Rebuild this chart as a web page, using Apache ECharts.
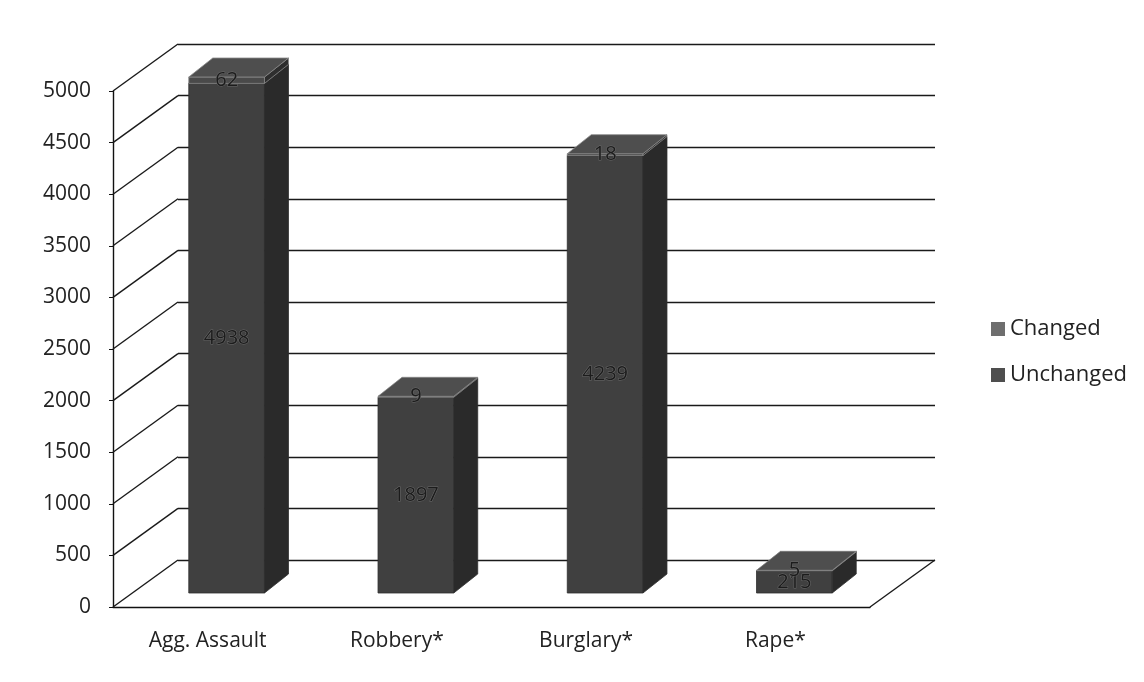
<!DOCTYPE html>
<html>
<head>
<meta charset="utf-8">
<title>Changed vs Unchanged</title>
<script src="https://cdn.jsdelivr.net/npm/echarts@6/dist/echarts.min.js"></script>
<style>
  html, body { margin: 0; padding: 0; background: #fff; }
  #chart { width: 1144px; height: 682px; }
</style>
</head>
<body>
<div id="chart"></div>
<script>
// chart values
var categories = ['Agg. Assault', 'Robbery*', 'Burglary*', 'Rape*'];
var unchanged = [4938, 1897, 4239, 215];
var changed = [62, 9, 18, 5];
var yTicks = [0, 500, 1000, 1500, 2000, 2500, 3000, 3500, 4000, 4500, 5000];

// 3d look: wall depth and bar placement (pixels)
var WALL_DX = 65, WALL_DY = -47;
var BAR_FX = 19, BAR_FY = -14;   // front face pushed back into the room
var BAR_DX = 24, BAR_DY = -19;   // depth of the bar itself

var font = '"Open Sans", "Liberation Sans", sans-serif';

function boxRenderer(colors) {
  return function (params, api) {
    var i = api.value(0), lo = api.value(1), hi = api.value(2), txt = api.value(3);
    var pLo = api.coord([i, lo]);
    var pHi = api.coord([i, hi]);
    var w = api.size([1, 0])[0] * 0.4;
    var x0 = pLo[0] - w / 2 + BAR_FX, x1 = x0 + w;
    var yb = pLo[1] + BAR_FY, yt = pHi[1] + BAR_FY;
    return {
      type: 'group',
      children: [
        { type: 'polygon', shape: { points: [[x0, yb], [x1, yb], [x1, yt], [x0, yt]] },
          style: { fill: colors.front, stroke: colors.edge, lineWidth: 0.8 } },
        { type: 'polygon', shape: { points: [[x1, yb], [x1 + BAR_DX, yb + BAR_DY], [x1 + BAR_DX, yt + BAR_DY], [x1, yt]] },
          style: { fill: colors.side, stroke: colors.edge, lineWidth: 0.8 } },
        { type: 'polygon', shape: { points: [[x0, yt], [x1, yt], [x1 + BAR_DX, yt + BAR_DY], [x0 + BAR_DX, yt + BAR_DY]] },
          style: { fill: colors.top, stroke: colors.edge, lineWidth: 0.8 } },
        { type: 'text', x: (x0 + x1) / 2, y: (yb + yt) / 2,
          style: { text: String(txt), fill: '#1c1c1c', font: '20px ' + font,
                   align: 'center', verticalAlign: 'middle',
                   stroke: '#6a6a6a', lineWidth: 1 } }
      ]
    };
  };
}

var unchangedData = [], changedData = [];
for (var k = 0; k < categories.length; k++) {
  unchangedData.push([k, 0, unchanged[k], unchanged[k]]);
  changedData.push([k, unchanged[k], unchanged[k] + changed[k], changed[k]]);
}

var chart = echarts.init(document.getElementById('chart'));
chart.setOption({
  backgroundColor: '#fff',
  animation: false,
  legend: {
    orient: 'vertical',
    left: 986,
    top: 313,
    itemWidth: 14,
    itemHeight: 14,
    itemGap: 24,
    icon: 'rect',
    textStyle: { fontSize: 22, color: '#222', fontFamily: font },
    data: ['Changed', 'Unchanged']
  },
  grid: [
    // front plane (labels, axis)
    { left: 113, right: 274, top: 91, bottom: 75 },
    // back wall (gridlines)
    { left: 178, right: 209, top: 44, bottom: 122 }
  ],
  xAxis: [
    { type: 'category', gridIndex: 0, data: categories,
      axisLine: { show: true, lineStyle: { color: '#111', width: 1.4 } },
      axisTick: { show: false },
      axisLabel: { fontSize: 21, color: '#222', margin: 24, fontFamily: font } },
    { type: 'category', gridIndex: 1, data: categories, show: false }
  ],
  yAxis: [
    { type: 'value', gridIndex: 0, min: 0, max: 5000, interval: 500,
      axisLine: { show: true, lineStyle: { color: '#111', width: 1.4 } },
      axisTick: { show: true, length: 4, lineStyle: { color: '#111' } },
      splitLine: { show: false },
      axisLabel: { fontSize: 21, color: '#222', margin: 22, fontFamily: font,
                   formatter: function (v) { return String(v); } } },
    { type: 'value', gridIndex: 1, min: 0, max: 5000, interval: 500,
      axisLine: { show: false }, axisTick: { show: false }, axisLabel: { show: false },
      splitLine: { show: true, lineStyle: { color: '#1a1a1a', width: 1.4 } } }
  ],
  series: [
    {
      // left wall diagonals and floor edge
      type: 'custom',
      name: 'frame',
      xAxisIndex: 0, yAxisIndex: 0,
      silent: true,
      data: yTicks.map(function (v) { return [0, v]; }),
      renderItem: function (params, api) {
        var cs = params.coordSys;
        var y = api.coord([0, api.value(1)])[1];
        var lineStyle = { stroke: '#1a1a1a', lineWidth: 1.4 };
        var children = [
          { type: 'line', shape: { x1: cs.x, y1: y, x2: cs.x + WALL_DX, y2: y + WALL_DY }, style: lineStyle }
        ];
        if (api.value(1) === 0) {
          var xr = cs.x + cs.width;
          children.push({ type: 'line', shape: { x1: xr, y1: y, x2: xr + WALL_DX, y2: y + WALL_DY }, style: lineStyle });
        }
        return { type: 'group', children: children };
      },
      z: 1
    },
    {
      type: 'custom',
      name: 'Unchanged',
      xAxisIndex: 0, yAxisIndex: 0,
      itemStyle: { color: '#4e4e4e' },
      encode: { x: 0, y: [1, 2] },
      data: unchangedData,
      renderItem: boxRenderer({ front: '#404040', side: '#2a2a2a', top: '#4c4c4c', edge: '#2e2e2e' }),
      z: 3
    },
    {
      type: 'custom',
      name: 'Changed',
      xAxisIndex: 0, yAxisIndex: 0,
      itemStyle: { color: '#6e6e6e' },
      encode: { x: 0, y: [1, 2] },
      data: changedData,
      renderItem: boxRenderer({ front: '#4a4a4a', side: '#2e2e2e', top: '#4e4e4e', edge: '#8a8a8a' }),
      z: 4
    }
  ]
});
</script>
</body>
</html>
